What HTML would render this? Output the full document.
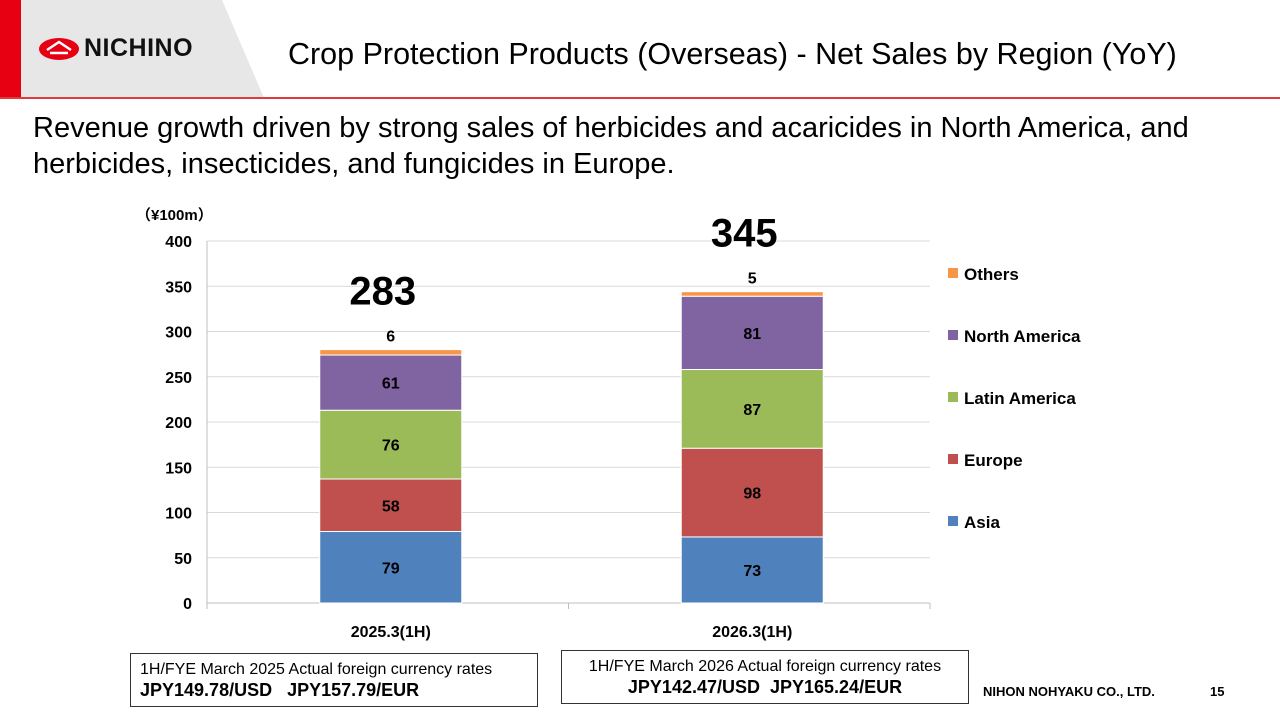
<!DOCTYPE html>
<html><head><meta charset="utf-8"><style>
body{margin:0;width:1280px;height:720px;position:relative;background:#fff;font-family:"Liberation Sans","Noto Sans CJK JP",sans-serif;overflow:hidden}
.abs{position:absolute}
</style></head><body>
<svg class="abs" style="left:0;top:0" width="1280" height="100">
<polygon points="0,0 222,0 264,98 0,98" fill="#e7e7e7"/>
<rect x="0" y="0" width="21" height="98" fill="#e60012"/>
<rect x="0" y="97" width="1280" height="2" fill="#e03a3e"/>
<ellipse cx="59" cy="49" rx="20" ry="11" fill="#e60012"/>
<path d="M47,50 L59,42 L71,50 M50,53 L68,53" stroke="#fff" stroke-width="2.5" fill="none"/>
</svg>
<div class="abs" style="left:84px;top:34px;font-size:25px;font-weight:bold;color:#111;letter-spacing:0.5px">NICHINO</div>
<div class="abs" style="left:288px;top:37px;font-size:30.5px;color:#000;white-space:nowrap">Crop Protection Products (Overseas) - Net Sales by Region (YoY)</div>
<div class="abs" style="left:33px;top:110px;font-size:29px;line-height:36px;color:#000;width:1230px">Revenue growth driven by strong sales of herbicides and acaricides in North America, and herbicides, insecticides, and fungicides in Europe.</div>
<svg id="chart" class="abs" style="left:0;top:0" width="1280" height="720"></svg>
<div class="abs" style="left:130px;top:653px;width:408px;height:54px;border:1px solid #333;box-sizing:border-box;padding:6px 0 0 9px;font-size:16px;line-height:20px">1H/FYE March 2025 Actual foreign currency rates<br><b style="font-size:18px">JPY149.78/USD&nbsp;&nbsp; JPY157.79/EUR</b></div>
<div class="abs" style="left:561px;top:650px;width:408px;height:54px;border:1px solid #333;box-sizing:border-box;padding:6px 0 0 0;text-align:center;font-size:16px;line-height:20px">1H/FYE March 2026 Actual foreign currency rates<br><b style="font-size:18px">JPY142.47/USD&nbsp; JPY165.24/EUR</b></div>
<div class="abs" style="left:983px;top:684px;font-size:13px;font-weight:bold">NIHON NOHYAKU CO., LTD.</div>
<div class="abs" style="left:1210px;top:684px;font-size:13px;font-weight:bold">15</div>
<script>
const categories=["2025.3(1H)","2026.3(1H)"];
const seriesNames=["Asia","Europe","Latin America","North America","Others"];
const asia=[79,73];
const europe=[58,98];
const latam=[76,87];
const northAm=[61,81];
const others=[6,5];
const totals=[283,345];
const yTicks=[0,50,100,150,200,250,300,350,400];
const colors=["#4f81bd","#c0504d","#9bbb59","#8064a2","#f79646"];
const svg=document.getElementById('chart');
const NS="http://www.w3.org/2000/svg";
const x0=207,x1=930,y0=603,yTop=241,yMax=400;
const y=v=>y0-(v/yMax)*(y0-yTop);
const bandW=(x1-x0)/categories.length;
const xc=i=>x0+bandW*(i+0.5)+3;
const barW=142;
function mk(t,a){const e=document.createElementNS(NS,t);for(const k in a)e.setAttribute(k,a[k]);svg.appendChild(e);return e;}
yTicks.forEach(t=>{
 const g=mk('line',{x1:x0,x2:x1,y1:y(t),y2:y(t),stroke:t===0?'#bfbfbf':'#d9d9d9','stroke-width':1});
 
 
 const l=mk('text',{x:192,y:y(t)+6,'text-anchor':'end','font-size':16,'font-weight':'bold','font-family':'Liberation Sans'});
 l.textContent=t;
 
 
});
const ax=mk('line',{x1:x0,x2:x0,y1:yTop,y2:y0,stroke:'#bfbfbf'});


[x0,(x0+x1)/2,x1].forEach(xx=>{const tk=mk('line',{x1:xx,x2:xx,y1:y0,y2:y0+6,stroke:'#bfbfbf'});});
const unit=mk('text',{x:136,y:220,'font-size':15,'font-weight':'bold','font-family':'Liberation Sans, Noto Sans CJK JP, sans-serif'});
unit.textContent='（¥100m）';


const series=[asia,europe,latam,northAm,others];
categories.forEach((c,i)=>{
 let cum=0;
 series.forEach((s,k)=>{
  const v=s[i];
  const r=mk('rect',{x:xc(i)-barW/2,y:y(cum+v),width:barW,height:y(cum)-y(cum+v),fill:colors[k],stroke:'#fff','stroke-width':1});
  
  
  const ly=k===4?y(cum+v)-8:(y(cum)+y(cum+v))/2+6;
  const t=mk('text',{x:xc(i),y:ly,'text-anchor':'middle','font-size':16,'font-weight':'bold','font-family':'Liberation Sans'});
  t.textContent=v;
  
  
  cum+=v;
 });
 const tt=mk('text',{x:xc(i)-8,y:y(cum)-45,'text-anchor':'middle','font-size':40,'font-weight':'bold','font-family':'Liberation Sans'});
 tt.textContent=totals[i];
 
 
 const xl=mk('text',{x:xc(i),y:637,'text-anchor':'middle','font-size':16,'font-weight':'bold','font-family':'Liberation Sans'});
 xl.textContent=c;
 
 
});
for(let k=4;k>=0;k--){
 const yy=274+(4-k)*62;
 const sq=mk('rect',{x:948,y:yy-6,width:10,height:10,fill:colors[k]});
 
 
 const lt=mk('text',{x:964,y:yy+6,'font-size':17,'font-weight':'bold','font-family':'Liberation Sans'});
 lt.textContent=seriesNames[k];
 
 
}
</script>
</body></html>
